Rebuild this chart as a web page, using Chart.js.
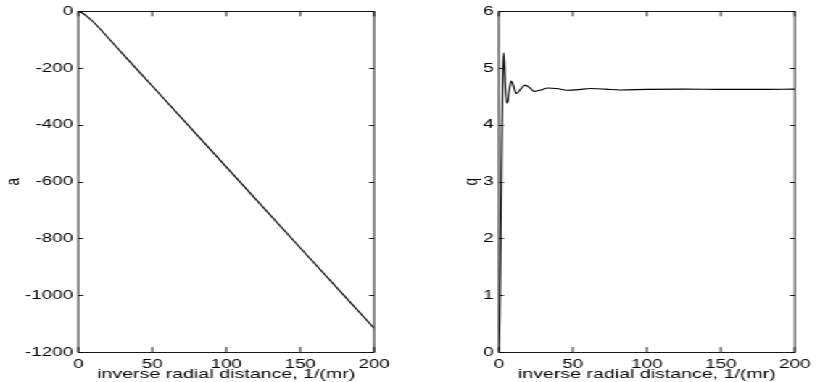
<!DOCTYPE html>
<html>
<head>
<meta charset="utf-8">
<script src="https://cdn.jsdelivr.net/npm/chart.js@4"></script>
<style>
    html, body { margin: 0; padding: 0; background: #fff; overflow: hidden; width: 817px; height: 382px; }
    /* the source figure is stretched sideways, so draw narrow and stretch the same way */
    #wrap { position: absolute; left: 0; top: 0; width: 564px; height: 382px; transform: scaleX(1.45); transform-origin: 0 0; }
    .panel { position: absolute; top: 0; }
</style>
</head>
<body>
<div id="wrap">
    <div class="panel" style="left:0px"><canvas id="chartA" width="283" height="382"></canvas></div>
    <div class="panel" style="left:283px"><canvas id="chartQ" width="281" height="382"></canvas></div>
</div>
<script>
// --- DATA ---

const aX = [0, 2, 5, 10, 20, 30, 50, 100, 150, 200]
const aY = [0, -4, -14, -37, -92, -150, -263, -548, -833, -1116]

const qX = [0, 0.5, 1, 1.5, 2, 2.5, 3.2, 3.8, 4.5, 5.7, 7, 8.4, 10, 11.7, 14.5, 17.8, 21, 24, 29, 33, 39, 46, 54, 62, 72, 82, 100, 125, 150, 175, 200]
const qY = [0, 0.4, 1.4, 2.6, 3.7, 4.6, 5.27, 5.05, 4.6, 4.38, 4.6, 4.77, 4.68, 4.55, 4.62, 4.70, 4.65, 4.59, 4.62, 4.65, 4.64, 4.61, 4.62, 4.64, 4.63, 4.615, 4.625, 4.63, 4.625, 4.625, 4.63]

const xTicks = [0, 50, 100, 150, 200]
const aTicks = [0, -200, -400, -600, -800, -1000, -1200]
const qTicks = [0, 1, 2, 3, 4, 5, 6]

const xTitle = 'inverse radial distance, 1/(mr)'

// --- HELPERS ---

const STRETCH = 1.45
const FONT = "'Liberation Sans', Arial, sans-serif"

function toPoints(xs, ys){
    return xs.map((v, i) => ({ x: v, y: ys[i] }))
}

// matlab style box with inward ticks on all four sides
const boxTicks = {
    id: 'boxTicks',
    afterDatasetsDraw(chart){
        const { ctx } = chart
        const { left, right, top, bottom } = chart.chartArea
        const x = chart.scales.x
        const y = chart.scales.y
        const lenV = 5
        const lenH = 5 / STRETCH

        ctx.save()
        ctx.strokeStyle = '#000'
        ctx.lineWidth = 0.9
        ctx.beginPath()

        x.ticks.forEach(t => {
            const px = x.getPixelForValue(t.value)
            ctx.moveTo(px, bottom); ctx.lineTo(px, bottom - lenV)
            ctx.moveTo(px, top); ctx.lineTo(px, top + lenV)
        })

        y.ticks.forEach(t => {
            const py = Math.round(y.getPixelForValue(t.value)) + 0.5
            ctx.moveTo(left, py); ctx.lineTo(left + lenH, py)
            ctx.moveTo(right, py); ctx.lineTo(right - lenH, py)
        })

        ctx.stroke()
        ctx.strokeRect(left, Math.round(top) + 0.5, right - left, Math.round(bottom - top))
        ctx.restore()
    }
}

function makeChart(id, xs, ys, yLabel, yTicks, yAxisWidth, padRight, titlePad){
    const ctx = document.getElementById(id).getContext('2d')

    return new Chart(ctx, {
        type: 'line',
        data: {
            datasets: [{
                data: toPoints(xs, ys),
                borderColor: '#000',
                borderWidth: 1.1,
                pointRadius: 0,
                cubicInterpolationMode: 'monotone',
                fill: false
            }]
        },
        options: {
            responsive: false,
            animation: false,
            devicePixelRatio: 1,
            layout: { padding: { top: 11, right: padRight, bottom: 0, left: 0 } },
            plugins: {
                legend: { display: false },
                tooltip: { enabled: false }
            },
            scales: {
                x: {
                    type: 'linear',
                    min: xTicks[0],
                    max: xTicks[xTicks.length - 1],
                    afterBuildTicks: s => { s.ticks = xTicks.map(v => ({ value: v })) },
                    grid: { display: false, drawTicks: false },
                    border: { display: false },
                    ticks: {
                        color: '#000',
                        font: { family: FONT, size: 13 },
                        padding: 5,
                        maxRotation: 0,
                        callback: v => String(v)
                    },
                    title: {
                        display: true,
                        text: xTitle,
                        color: '#000',
                        font: { family: FONT, size: 13.5, lineHeight: 1 },
                        padding: { top: 0, bottom: 1 }
                    },
                    afterFit: s => { s.height = 30 }
                },
                y: {
                    type: 'linear',
                    min: Math.min(...yTicks),
                    max: Math.max(...yTicks),
                    afterBuildTicks: s => { s.ticks = yTicks.map(v => ({ value: v })) },
                    grid: { display: false, drawTicks: false },
                    border: { display: false },
                    ticks: {
                        color: '#000',
                        font: { family: FONT, size: 13 },
                        padding: 3.5,
                        callback: v => String(v)
                    },
                    title: {
                        display: true,
                        text: yLabel,
                        color: '#000',
                        font: { family: FONT, size: 13.5, lineHeight: 1 },
                        padding: { top: titlePad, bottom: 0 }
                    },
                    afterFit: s => { s.width = yAxisWidth }
                }
            }
        },
        plugins: [boxTicks]
    })
}

// --- INIT ---

makeChart('chartA', aX, aY, 'a', aTicks, 54, 25, 2.3)
makeChart('chartQ', qX, qY, 'q', qTicks, 61, 15, 35.2)
</script>
</body>
</html>
